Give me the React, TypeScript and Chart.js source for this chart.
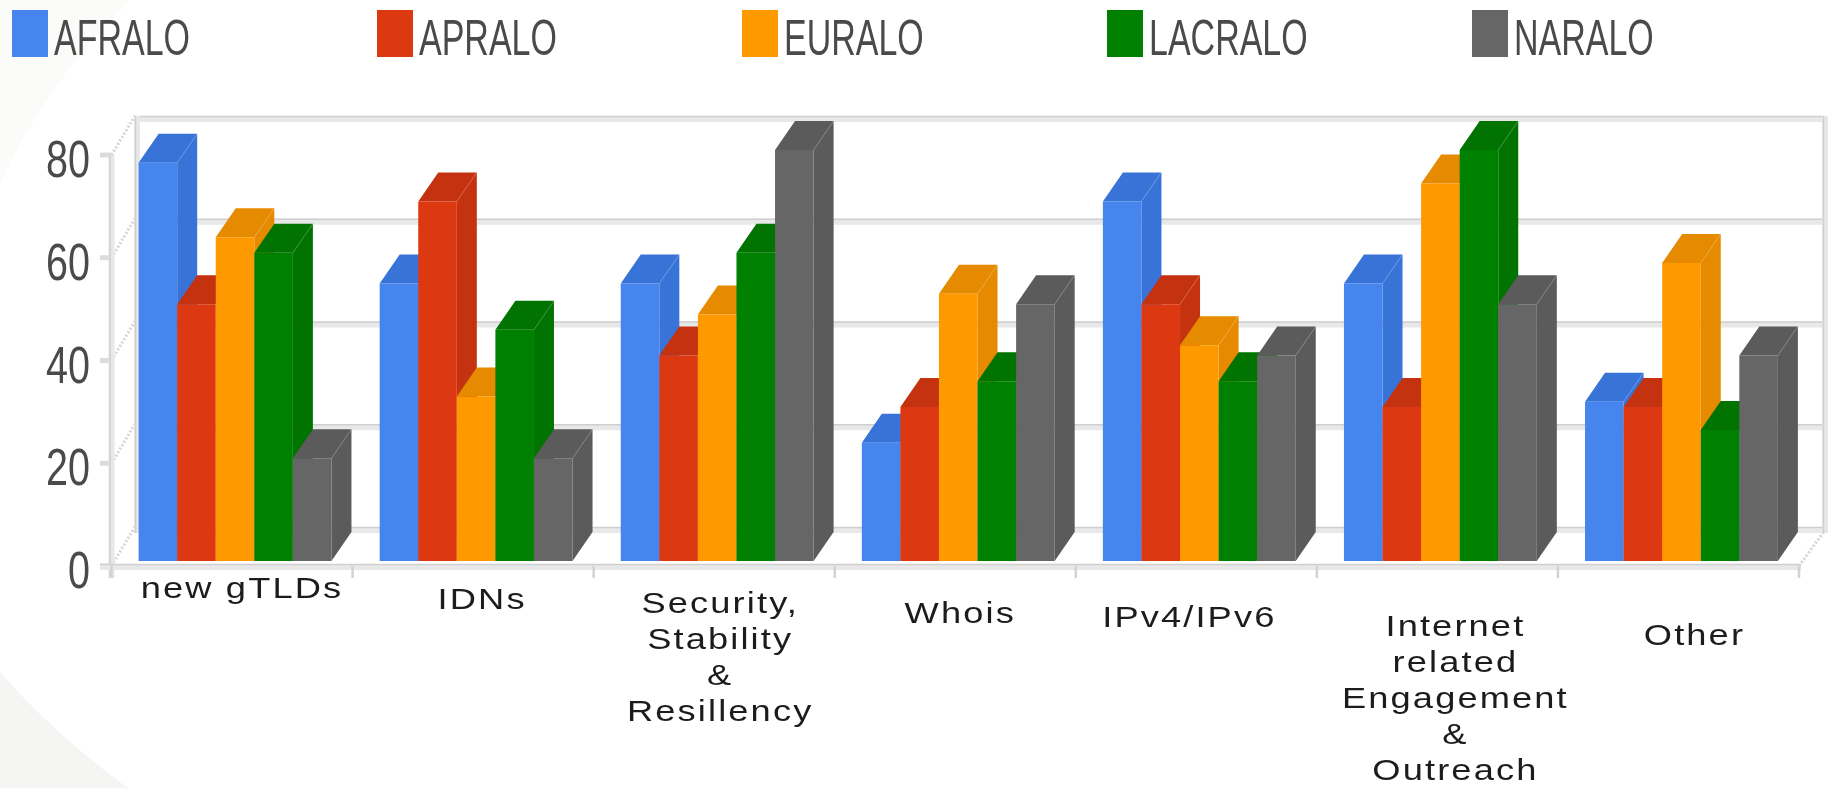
import React, { useEffect, useRef } from "react";
import { Chart, registerables } from "chart.js";

Chart.register(...registerables);

const categories = [
  ["new gTLDs"],
  ["IDNs"],
  ["Security,", "Stability", "&", "Resillency"],
  ["Whois"],
  ["IPv4/IPv6"],
  ["Internet", "related", "Engagement", "&", "Outreach"],
  ["Other"],
];
const seriesNames = ["AFRALO", "APRALO", "EURALO", "LACRALO", "NARALO"];
const afralo = [77.5, 54, 54, 23, 70, 54, 31];
const apralo = [50, 70, 40, 30, 50, 30, 30];
const euralo = [63, 32, 48, 52, 42, 73.5, 58];
const lacralo = [60, 45, 60, 35, 35, 80, 25.5];
const naralo = [20, 20, 80, 50, 40, 50, 40];
const seriesValues = [afralo, apralo, euralo, lacralo, naralo];

const frontColors = ["#4684EE", "#DC3912", "#FF9900", "#008000", "#666666"];
const darkColors = ["#3874D8", "#C5320F", "#E68A00", "#007300", "#5B5B5B"];

const labelNudgeX = [7, 6, 3, 2, -10, 15, 13];
const labelFirstLineY = [590, 601, 605, 615, 619, 628, 637];
const FONT = '"Liberation Sans", Arial, sans-serif';

function stretched(ctx: any, text: string, x: number, y: number, sx: number, align: string) {
  ctx.save();
  ctx.translate(x, y);
  ctx.scale(sx, 1);
  ctx.textAlign = align;
  ctx.fillText(text, 0, 0);
  ctx.restore();
}

function band(ctx: any, x1: number, y1: number, x2: number, y2: number) {
  ctx.lineCap = "butt";
  ctx.strokeStyle = "#e8e8e8";
  ctx.lineWidth = 6;
  ctx.beginPath();
  ctx.moveTo(x1, y1);
  ctx.lineTo(x2, y2);
  ctx.stroke();
  ctx.strokeStyle = "#cfcfcf";
  ctx.lineWidth = 1.5;
  ctx.beginPath();
  if (y1 === y2) {
    ctx.moveTo(x1, y1 - 2.5);
    ctx.lineTo(x2, y2 - 2.5);
  } else {
    ctx.moveTo(x1 - 1.5, y1);
    ctx.lineTo(x2 - 1.5, y2);
  }
  ctx.stroke();
}

function drawDepthFaces(ctx: any, meta: any, dark: string) {
  const dx = 20;
  const dy = -29;
  ctx.save();
  meta.data.forEach((bar: any) => {
    const left = bar.x - bar.width / 2;
    const right = bar.x + bar.width / 2;
    ctx.fillStyle = dark;
    ctx.beginPath();
    ctx.moveTo(left, bar.y);
    ctx.lineTo(left + dx, bar.y + dy);
    ctx.lineTo(right + dx, bar.y + dy);
    ctx.lineTo(right + dx, bar.base + dy);
    ctx.lineTo(right, bar.base);
    ctx.lineTo(right, bar.y);
    ctx.closePath();
    ctx.fill();
    ctx.strokeStyle = "rgba(255,255,255,0.28)";
    ctx.lineWidth = 1;
    ctx.beginPath();
    ctx.moveTo(right, bar.y);
    ctx.lineTo(right + dx, bar.y + dy);
    ctx.stroke();
  });
  ctx.restore();
}

const frame3d = {
  id: "frame3d",
  beforeDraw(chart: any) {
    const { ctx, width, height } = chart;
    ctx.save();
    ctx.fillStyle = "#ffffff";
    ctx.fillRect(0, 0, width, height);
    ctx.fillStyle = "#fbfbfa";
    ctx.beginPath();
    ctx.moveTo(0, 0);
    ctx.lineTo(130, 0);
    ctx.quadraticCurveTo(40, 90, 0, 185);
    ctx.closePath();
    ctx.fill();
    ctx.fillStyle = "#f5f5f3";
    ctx.beginPath();
    ctx.moveTo(0, 672);
    ctx.quadraticCurveTo(55, 735, 128, height);
    ctx.lineTo(0, height);
    ctx.closePath();
    ctx.fill();
    ctx.restore();
  },
  beforeDatasetsDraw(chart: any) {
    const { ctx, scales } = chart;
    const y = scales.y;
    const x = scales.x;
    const frontL = 111.5;
    const frontR = 1799;
    const backL = 137;
    const backR = 1825;
    const backDy = -31;
    const frontDy = 5;
    ctx.save();
    y.ticks.forEach((t: any) => {
      const py = y.getPixelForValue(t.value);
      band(ctx, backL, py + backDy, backR, py + backDy);
      ctx.strokeStyle = "#d6d6d6";
      ctx.lineWidth = 3;
      ctx.setLineDash([2, 2]);
      ctx.beginPath();
      ctx.moveTo(frontL, py + frontDy);
      ctx.lineTo(backL - 1, py + backDy - 5);
      ctx.stroke();
      ctx.setLineDash([]);
      ctx.strokeStyle = "#dcdcdc";
      ctx.lineWidth = 5;
      ctx.beginPath();
      ctx.moveTo(100, py + frontDy);
      ctx.lineTo(frontL, py + frontDy);
      ctx.stroke();
    });
    const top = y.getPixelForValue(80);
    const bottom = y.getPixelForValue(0);
    band(ctx, backL, top + backDy - 3, backL, bottom + backDy + 3);
    band(ctx, backR, top + backDy - 3, backR, bottom + backDy + 3);
    band(ctx, frontL, top + frontDy, frontL, bottom + frontDy + 12);
    band(ctx, 100, bottom + frontDy + 1, frontR + 2, bottom + frontDy + 1);
    ctx.strokeStyle = "#d6d6d6";
    ctx.lineWidth = 3;
    ctx.setLineDash([2, 2]);
    ctx.beginPath();
    ctx.moveTo(frontR, bottom + frontDy);
    ctx.lineTo(backR, bottom + backDy);
    ctx.stroke();
    ctx.setLineDash([]);
    const step = x.getPixelForValue(1) - x.getPixelForValue(0);
    for (let i = 0; i <= categories.length; i++) {
      const px = frontL + step * i;
      ctx.strokeStyle = "#d2d2d2";
      ctx.lineWidth = 2.5;
      ctx.beginPath();
      ctx.moveTo(px, bottom + frontDy);
      ctx.lineTo(px, bottom + frontDy + 12);
      ctx.stroke();
    }
    ctx.restore();

    // Painter's order: left bar first, so each bar covers the depth of the one before it.
    chart.data.datasets.forEach((_: any, i: number) => {
      const meta = chart.getDatasetMeta(i);
      drawDepthFaces(ctx, meta, darkColors[i]);
      meta.controller.draw();
    });
    return false;
  },
  afterDraw(chart: any) {
    const { ctx, scales } = chart;
    const y = scales.y;
    const x = scales.x;
    ctx.save();
    ctx.fillStyle = "#4a4a4a";
    ctx.textBaseline = "alphabetic";
    ctx.font = `52px ${FONT}`;
    y.ticks.forEach((t: any) => {
      stretched(ctx, String(t.label), 90, y.getPixelForValue(t.value) + 27, 0.76, "right");
    });
    ctx.fillStyle = "#1c1c1c";
    ctx.textBaseline = "middle";
    ctx.font = `29px ${FONT}`;
    ctx.letterSpacing = "1.7px";
    chart.data.labels.forEach((lines: string[], i: number) => {
      const cx = x.getPixelForValue(i) + labelNudgeX[i];
      lines.forEach((line, j) => {
        stretched(ctx, line, cx, labelFirstLineY[i] + j * 36, 1.25, "center");
      });
    });
    ctx.letterSpacing = "0px";
    const legendSwatchX = 12;
    const legendStep = 365;
    ctx.textBaseline = "alphabetic";
    ctx.font = `50px ${FONT}`;
    chart.data.datasets.forEach((ds: any, i: number) => {
      const sx = legendSwatchX + i * legendStep;
      ctx.fillStyle = ds.backgroundColor;
      ctx.fillRect(sx, 10, 36, 47);
      ctx.fillStyle = "#4a4a4a";
      stretched(ctx, ds.label, sx + 42, 55, 0.68, "left");
    });
    ctx.restore();
  },
};

export default function App() {
  const ref = useRef<HTMLCanvasElement | null>(null);
  useEffect(() => {
    document.body.style.margin = "0";
    document.body.style.background = "#ffffff";
    const chart = new Chart(ref.current as HTMLCanvasElement, {
      type: "bar",
      data: {
        labels: categories as any,
        datasets: seriesNames.map((label, i) => ({
          label,
          data: seriesValues[i],
          backgroundColor: frontColors[i],
          borderWidth: 0,
          categoryPercentage: 0.8,
          barPercentage: 1,
        })),
      },
      options: {
        animation: false,
        responsive: false,
        layout: { padding: { left: 106.5, right: 30, top: 150, bottom: 219 } },
        plugins: { legend: { display: false }, title: { display: false }, tooltip: { enabled: false } },
        scales: {
          x: {
            ticks: { display: false },
            grid: { display: false },
            border: { display: false },
          },
          y: {
            min: 0,
            max: 80,
            ticks: { display: false, stepSize: 20 },
            grid: { display: false },
            border: { display: false },
          },
        },
      },
      plugins: [frame3d],
    });
    return () => chart.destroy();
  }, []);
  return (
    <canvas
      ref={ref}
      width={1832}
      height={788}
      style={{ display: "block", width: 1832, height: 788, filter: "blur(0.7px)" }}
    />
  );
}
